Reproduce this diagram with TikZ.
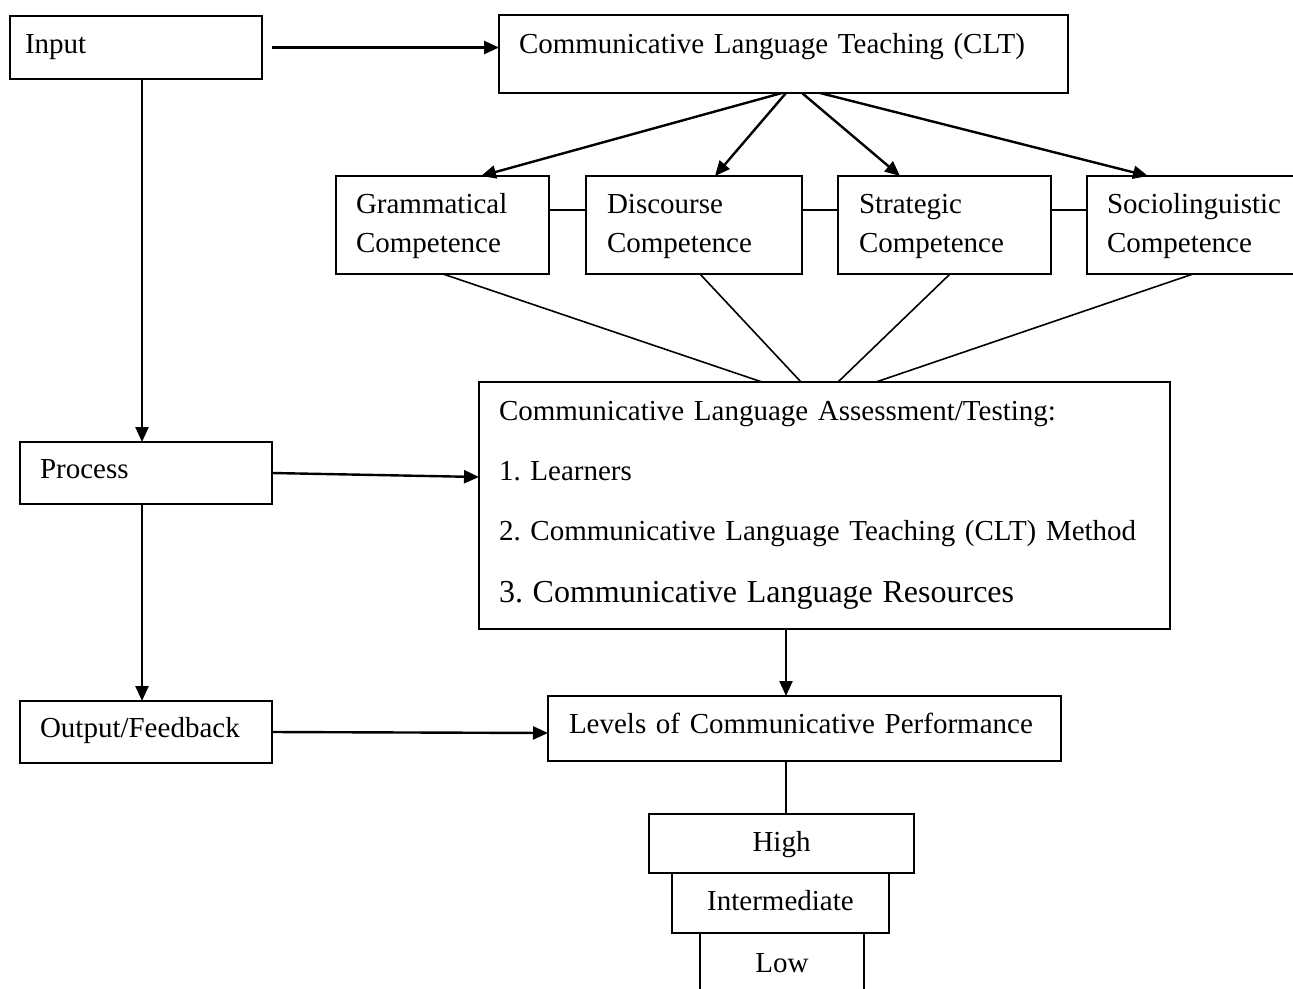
\documentclass[tikz,border=0pt]{standalone}
\usepackage{fontspec}
\setmainfont{Liberation Serif}
\usetikzlibrary{arrows.meta}
\frenchspacing
\begin{document}
\begin{tikzpicture}[x=1pt,y=-1pt,
  bx/.style={draw, line width=2pt, outer sep=0pt, anchor=north west, inner ysep=0pt, align=left, font=\fontsize{29}{39}\selectfont},
  cbx/.style={draw, line width=2pt, outer sep=0pt, anchor=north west, inner sep=0pt, align=center, font=\fontsize{29}{39}\selectfont},
  arr/.style={line width=2.4pt, -{Triangle[length=15pt,width=13pt]}},
  ln/.style={line width=1.6pt},
  lnb/.style={line width=2pt}]
\useasboundingbox (0,0) rectangle (1293,988);
\clip (0,0) rectangle (1293,988);
\fill[white] (0,0) rectangle (1293,988);

% boxes
\node[bx, text width=222pt, inner xsep=15pt, text height=37pt, text depth=26pt] (inp) at (10,16) {Input};
\node[bx, text width=529pt, inner xsep=20pt, text height=38pt, text depth=40pt] (clt) at (499,15) {Communicative Language Teaching (CLT)};
\node[bx, text width=173pt, inner xsep=20pt, text height=37pt, text depth=61pt] (gram) at (336,176) {Grammatical\\Competence};
\node[bx, text width=174pt, inner xsep=21pt, text height=37pt, text depth=61pt] (disc) at (586,176) {Discourse\\Competence};
\node[bx, text width=171pt, inner xsep=21pt, text height=37pt, text depth=61pt] (strat) at (838,176) {Strategic\\Competence};
\node[bx, text width=193pt, inner xsep=20pt, text height=37pt, text depth=61pt] (socio) at (1087,176) {Sociolinguistic\\Competence};
\node[bx, text width=651pt, inner xsep=20pt, text height=38pt, text depth=209pt, font=\fontsize{29}{60}\selectfont] (assess) at (479,382)
  {Communicative Language Assessment/Testing:\\
   1. Learners\\
   2. Communicative Language Teaching (CLT) Method\\[2pt]
   {\fontsize{32}{38}\selectfont 3. Communicative Language Resources}};
\node[bx, text width=212pt, inner xsep=20pt, text height=36pt, text depth=26pt] (proc) at (20,442) {Process};
\node[bx, text width=212pt, inner xsep=20pt, text height=36pt, text depth=26pt] (out) at (20,701) {Output/Feedback};
\node[bx, text width=471pt, inner xsep=21pt, text height=37pt, text depth=28pt] (lev) at (548,696) {Levels of Communicative Performance};
\node[cbx, minimum width=265pt, text height=37pt, text depth=22pt] (high) at (649,814) {High};
\node[cbx, minimum width=217pt, text height=37pt, text depth=23pt] (inter) at (672,873) {Intermediate};
\node[cbx, minimum width=164pt, text height=39pt, text depth=41pt] (low) at (700,933) {Low};

% connectors
\draw[arr] ([xshift=10pt]inp.east) -- (inp.east -| clt.west);
\draw[arr] ([xshift=6pt]inp.south) -- ([xshift=-4pt]proc.north);
\draw[arr] ([xshift=-4pt]proc.south) -- ([xshift=-4pt]out.north);
\draw[arr] (proc.east) -- ([yshift=28.5pt]assess.west);
\draw[arr] (out.east) -- ([yshift=-4.5pt]lev.west);

\draw[arr] ([xshift=-1.5pt]clt.south) -- ([xshift=145pt]gram.north west);
\draw[arr] ([xshift=2.5pt]clt.south) -- ([xshift=129pt]disc.north west);
\draw[arr] ([xshift=18.5pt]clt.south) -- ([xshift=62pt]strat.north west);
\draw[arr] ([xshift=36.5pt]clt.south) -- ([xshift=61pt]socio.north west);

\draw[lnb] ([yshift=15pt]gram.east) -- ([yshift=15pt]disc.west);
\draw[lnb] ([yshift=15pt]disc.east) -- ([yshift=15pt]strat.west);
\draw[lnb] ([yshift=15pt]strat.east) -- ([yshift=15pt]socio.west);

\draw[ln] ([xshift=107pt]gram.south west) -- ([xshift=283pt]assess.north west);
\draw[ln] ([xshift=114pt]disc.south west) -- ([xshift=322pt]assess.north west);
\draw[ln] ([xshift=112pt]strat.south west) -- ([xshift=359pt]assess.north west);
\draw[ln] ([xshift=106pt]socio.south west) -- ([xshift=397pt]assess.north west);

\draw[arr] ([xshift=-38.5pt]assess.south) -- ([xshift=-18.5pt]lev.north);
\draw[lnb] ([xshift=-18.5pt]lev.south) -- ([xshift=4.5pt]high.north);
\end{tikzpicture}
\end{document}
